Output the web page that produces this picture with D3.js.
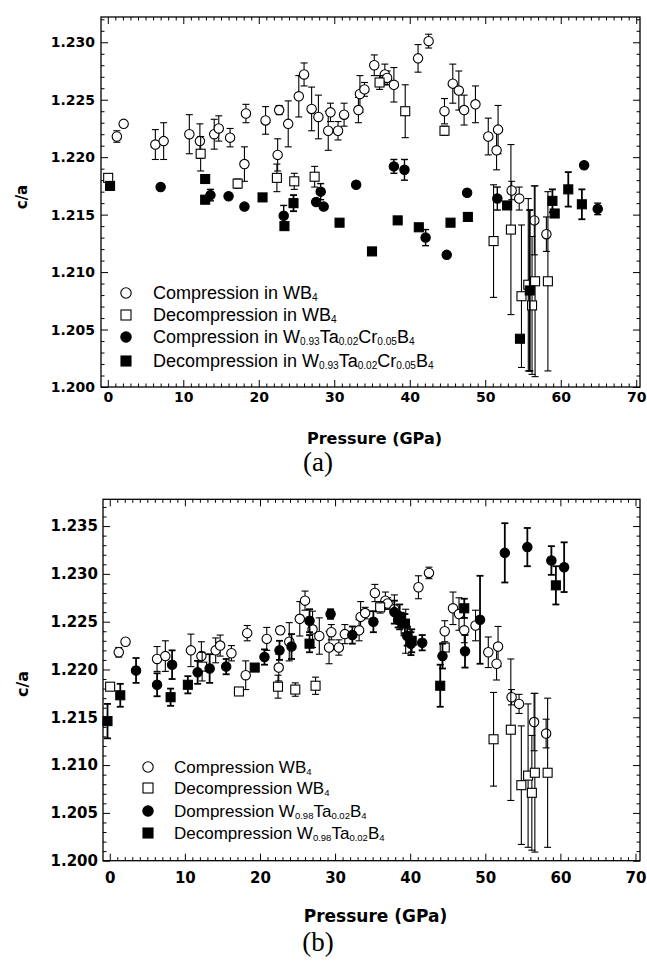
<!DOCTYPE html>
<html>
<head>
<meta charset="utf-8">
<script src="https://cdn.jsdelivr.net/npm/d3@7"></script>
<style>
  body { margin: 0; background: #fff; }
  svg { display: block; }
</style>
</head>
<body>
<div id="chart"></div>
<script>
// every row: [pressure (GPa), c/a, error]
const wb4Comp = [
  [1.2, 1.2218, 0.0005], [2.1, 1.2229, 0], [6.3, 1.2211, 0.0013], [7.4, 1.2214, 0.0016],
  [10.8, 1.2220, 0.0017], [12.2, 1.2214, 0.0015], [14.1, 1.2220, 0.0013], [14.7, 1.2225, 0.0011],
  [16.2, 1.2217, 0.0008], [18.1, 1.2194, 0.0015], [18.3, 1.2238, 0.0008], [20.9, 1.2232, 0.0012],
  [22.5, 1.2202, 0.0014], [22.7, 1.2241, 0.0004], [23.9, 1.2229, 0.0020], [25.3, 1.2253, 0.0018],
  [26.0, 1.2272, 0.0010], [27.0, 1.2242, 0.0019], [27.9, 1.2235, 0.0019], [29.2, 1.2223, 0.0017],
  [29.5, 1.2239, 0.0008], [30.5, 1.2223, 0.0008], [31.3, 1.2237, 0.0010], [33.2, 1.2241, 0.0011],
  [33.4, 1.2255, 0.0016], [34.0, 1.2259, 0.0006], [35.3, 1.2280, 0.0009], [36.7, 1.2272, 0.0009],
  [37.0, 1.2269, 0.0006], [37.9, 1.2263, 0.0015], [41.1, 1.2286, 0.0012], [42.5, 1.2301, 0.0006],
  [44.6, 1.2240, 0.0011], [45.7, 1.2264, 0.0017], [46.5, 1.2258, 0.0017], [47.2, 1.2241, 0.0013],
  [48.7, 1.2246, 0.0016], [50.4, 1.2218, 0.0016], [51.5, 1.2206, 0.0017], [51.7, 1.2224, 0.0021],
  [53.5, 1.2171, 0.0008], [54.5, 1.2164, 0.0010], [56.5, 1.2145, 0.0030], [58.1, 1.2133, 0.0015]
]
const wb4Decomp = [
  [0.05, 1.2182, 0], [12.3, 1.2203, 0.0015], [17.2, 1.2177, 0.0004], [22.4, 1.2182, 0.0012],
  [24.7, 1.2179, 0.0007], [27.4, 1.2183, 0.0009], [36.0, 1.2265, 0.0006], [39.4, 1.2240, 0.0023],
  [44.6, 1.2223, 0.0004], [51.1, 1.2127, 0.0049], [53.4, 1.2137, 0.0074], [54.8, 1.2079, 0.0062],
  [55.7, 1.2089, 0.0075], [56.2, 1.2071, 0.0060], [56.6, 1.2092, 0.0083], [58.3, 1.2092, 0.0078]
]
// panel (a): W0.93Ta0.02Cr0.05B4
const crComp = [
  [7.0, 1.2174, 0], [13.6, 1.2167, 0.0005], [16.0, 1.2166, 0], [18.1, 1.2157, 0],
  [23.3, 1.2149, 0.0009], [27.6, 1.2161, 0], [28.2, 1.2170, 0.0007], [28.6, 1.2157, 0],
  [32.9, 1.2176, 0], [37.9, 1.2192, 0.0006], [39.3, 1.2189, 0.0009], [42.1, 1.2130, 0.0007],
  [44.9, 1.2115, 0], [47.6, 1.2169, 0], [51.6, 1.2164, 0.0010], [63.1, 1.2193, 0],
  [64.9, 1.2155, 0.0005]
]
const crDecomp = [
  [0.3, 1.2175, 0], [12.9, 1.2181, 0], [12.9, 1.2163, 0], [20.5, 1.2165, 0],
  [23.4, 1.2140, 0], [24.6, 1.2160, 0.0007], [30.7, 1.2143, 0], [35.0, 1.2118, 0],
  [38.4, 1.2145, 0], [41.2, 1.2139, 0], [45.4, 1.2143, 0], [47.7, 1.2148, 0],
  [52.9, 1.2158, 0], [54.6, 1.2042, 0], [55.9, 1.2084, 0.0070], [58.9, 1.2162, 0.0010],
  [59.2, 1.2151, 0], [61.0, 1.2172, 0.0015], [62.8, 1.2159, 0.0013]
]
// panel (b): W0.98Ta0.02B4
const taComp = [
  [3.5, 1.2199, 0.0013], [6.3, 1.2184, 0.0012], [8.3, 1.2205, 0.0015], [11.7, 1.2197, 0.0012],
  [13.3, 1.2201, 0.0015], [15.5, 1.2203, 0.0008], [20.6, 1.2213, 0.0008], [22.6, 1.2220, 0.0010],
  [24.2, 1.2224, 0.0013], [26.6, 1.2251, 0.0012], [29.4, 1.2258, 0.0005], [32.3, 1.2236, 0.0009],
  [35.1, 1.2250, 0.0011], [37.9, 1.2260, 0.0012], [38.4, 1.2252, 0.0008], [39.6, 1.2235, 0.0010],
  [40.1, 1.2227, 0.0012], [41.6, 1.2228, 0.0008], [44.3, 1.2214, 0.0013], [47.3, 1.2219, 0.0017],
  [49.3, 1.2252, 0.0046], [52.6, 1.2322, 0.0031], [55.6, 1.2328, 0.0020], [58.8, 1.2314, 0.0015],
  [60.5, 1.2307, 0.0026]
]
const taDecomp = [
  [-0.3, 1.2146, 0.0018], [1.4, 1.2173, 0.0012], [8.1, 1.2171, 0.0009], [10.4, 1.2184, 0.0009],
  [19.3, 1.2202, 0], [26.6, 1.2227, 0.0009], [38.6, 1.2255, 0.0013], [39.3, 1.2248, 0.0010],
  [40.2, 1.2230, 0.0012], [44.0, 1.2183, 0.0022], [47.2, 1.2264, 0.0010], [59.4, 1.2288, 0.0020]
]

const xTicks = [0, 10, 20, 30, 40, 50, 60, 70]
const yTicksA = [1.200, 1.205, 1.210, 1.215, 1.220, 1.225, 1.230]
const yTicksB = [1.200, 1.205, 1.210, 1.215, 1.220, 1.225, 1.230, 1.235]

// legend rows: pieces of [text, isSubscript]
const legendA = [
  [["Compression in WB", 0], ["4", 1]],
  [["Decompression in WB", 0], ["4", 1]],
  [["Compression in W", 0], ["0.93", 1], ["Ta", 0], ["0.02", 1], ["Cr", 0], ["0.05", 1], ["B", 0], ["4", 1]],
  [["Decompression in W", 0], ["0.93", 1], ["Ta", 0], ["0.02", 1], ["Cr", 0], ["0.05", 1], ["B", 0], ["4", 1]]
]
const legendB = [
  [["Compression WB", 0], ["4", 1]],
  [["Decompression WB", 0], ["4", 1]],
  [["Dompression W", 0], ["0.98", 1], ["Ta", 0], ["0.02", 1], ["B", 0], ["4", 1]],
  [["Decompression W", 0], ["0.98", 1], ["Ta", 0], ["0.02", 1], ["B", 0], ["4", 1]]
]

const width = 647
const height = 962
const tickFont = "'DejaVu Sans', sans-serif"

const svg = d3.select("#chart").append("svg")
  .attr("width", width)
  .attr("height", height)
  .attr("viewBox", [0, 0, width, height])

svg.append("rect").attr("width", width).attr("height", height).attr("fill", "#fff")

function marker(g, shape, filled, cx, cy, r) {
  if (shape === "circle") {
    g.append("circle").attr("cx", cx).attr("cy", cy).attr("r", r)
      .attr("fill", filled ? "#000" : "#fff").attr("stroke", "#000").attr("stroke-width", 1.1)
  } else {
    g.append("rect").attr("x", cx - r).attr("y", cy - r).attr("width", 2 * r).attr("height", 2 * r)
      .attr("fill", filled ? "#000" : "#fff").attr("stroke", "#000").attr("stroke-width", 1.1)
  }
}

function drawPanel(cfg) {
  const x = d3.scaleLinear(cfg.xDomain, [cfg.left, cfg.right])
  const y = d3.scaleLinear(cfg.yDomain, [cfg.bottom, cfg.top])
  const g = svg.append("g")

  const xMinor = d3.range(0, 71).filter(v => v % 10 !== 0)
  const yMinor = d3.range(1200, Math.floor(cfg.yDomain[1] * 1000) + 1).filter(v => v % 5 !== 0).map(v => v / 1000)

  // ticks on all four sides, pointing inward
  const makers = [
    () => d3.axisBottom(x), () => d3.axisTop(x), () => d3.axisLeft(y), () => d3.axisRight(y)
  ]
  const moves = [
    `translate(0,${cfg.bottom})`, `translate(0,${cfg.top})`,
    `translate(${cfg.left},0)`, `translate(${cfg.right},0)`
  ]
  makers.forEach((make, i) => {
    const isX = i < 2
    const major = isX ? xTicks : cfg.yTicks
    const minor = isX ? xMinor : yMinor
    const fmt = i === 0 ? (d => d) : i === 2 ? d3.format(".3f") : (() => "")
    g.append("g").attr("transform", moves[i])
      .call(make().tickValues(minor).tickSizeInner(-3.5).tickSizeOuter(0).tickFormat(""))
      .call(a => a.select(".domain").remove())
    g.append("g").attr("transform", moves[i])
      .call(make().tickValues(major).tickSizeInner(-7).tickSizeOuter(0)
        .tickPadding(isX ? cfg.xPad : cfg.yPad).tickFormat(fmt))
      .call(a => a.select(".domain").remove())
      .call(a => a.selectAll("text").attr("font-family", tickFont).attr("font-weight", "bold")
        .attr("font-size", cfg.tickSize).attr("fill", "#000"))
  })
  g.selectAll(".tick line").attr("stroke", "#000").attr("stroke-width", 1)

  g.append("rect")
    .attr("x", cfg.left).attr("y", cfg.top)
    .attr("width", cfg.right - cfg.left).attr("height", cfg.bottom - cfg.top)
    .attr("fill", "none").attr("stroke", "#000").attr("stroke-width", 1.3)

  // series: error bars then markers
  cfg.series.forEach(s => {
    const sg = g.append("g")
    s.data.forEach(([p, v, e]) => {
      if (e > 0) {
        const px = x(p), y1 = y(v - e), y2 = y(v + e)
        sg.append("line").attr("x1", px).attr("x2", px).attr("y1", y1).attr("y2", y2)
          .attr("stroke", "#000").attr("stroke-width", s.barWidth)
        ;[y1, y2].forEach(yy => sg.append("line")
          .attr("x1", px - 3.5).attr("x2", px + 3.5).attr("y1", yy).attr("y2", yy)
          .attr("stroke", "#000").attr("stroke-width", s.barWidth))
      }
    })
    s.data.forEach(([p, v]) => marker(sg, s.shape, s.filled, x(p), y(v), s.shape === "circle" ? 4.7 : 4.5))
  })

  // legend
  cfg.legend.forEach((row, i) => {
    const s = cfg.series[i]
    const ly = cfg.legendY[i]
    marker(g, s.shape, s.filled, cfg.legendX, ly, s.shape === "circle" ? 5.2 : 5)
    const t = g.append("text").attr("x", cfg.legendTextX).attr("y", ly + cfg.legendSize * 0.36)
      .attr("font-family", "'Liberation Sans', Arial, sans-serif").attr("font-size", cfg.legendSize).attr("fill", "#000")
    let shift = 0
    row.forEach(([txt, sub]) => {
      const want = sub ? 2 : 0
      t.append("tspan").attr("dy", want - shift).attr("font-size", sub ? cfg.legendSize * 0.56 : null).text(txt)
      shift = want
    })
  })

  // axis titles
  g.append("text")
    .attr("transform", `translate(${cfg.yLabelX},${cfg.yLabelY}) rotate(-90)`)
    .attr("text-anchor", "middle").attr("dominant-baseline", "central")
    .attr("font-family", tickFont).attr("font-weight", "bold").attr("font-size", cfg.labelSize - 1)
    .text("c/a")
  g.append("text")
    .attr("x", (cfg.left + cfg.right) / 2 + 4).attr("y", cfg.xLabelY)
    .attr("text-anchor", "middle")
    .attr("font-family", tickFont).attr("font-weight", "bold").attr("font-size", cfg.labelSize)
    .text("Pressure (GPa)")
  g.append("text")
    .attr("x", 318).attr("y", cfg.tagY)
    .attr("text-anchor", "middle")
    .attr("font-family", "'Liberation Serif', 'Times New Roman', serif").attr("font-size", 27)
    .text(cfg.tag)
}

drawPanel({
  left: 101, right: 640, top: 17, bottom: 387,
  xDomain: [-0.9, 70.5], yDomain: [1.200, 1.2322], yTicks: yTicksA,
  xPad: 5, yPad: 6, tickSize: 14, labelSize: 16,
  series: [
    {data: wb4Comp, shape: "circle", filled: false, barWidth: 1.1},
    {data: wb4Decomp, shape: "square", filled: false, barWidth: 1.1},
    {data: crComp, shape: "circle", filled: true, barWidth: 1.4},
    {data: crDecomp, shape: "square", filled: true, barWidth: 1.8}
  ],
  legend: legendA, legendX: 126, legendTextX: 153, legendY: [293, 315, 337, 361], legendSize: 18,
  yLabelX: 22, yLabelY: 197, xLabelY: 444, tag: "(a)", tagY: 471
})

drawPanel({
  left: 103, right: 640, top: 499.3, bottom: 860.7,
  xDomain: [-0.9, 70.6], yDomain: [1.200, 1.2378], yTicks: yTicksB,
  xPad: 12, yPad: 5, tickSize: 15, labelSize: 17,
  series: [
    {data: wb4Comp, shape: "circle", filled: false, barWidth: 1.1},
    {data: wb4Decomp, shape: "square", filled: false, barWidth: 1.1},
    {data: taComp, shape: "circle", filled: true, barWidth: 1.8},
    {data: taDecomp, shape: "square", filled: true, barWidth: 1.8}
  ],
  legend: legendB, legendX: 148, legendTextX: 174, legendY: [767, 788, 811, 833], legendSize: 17,
  yLabelX: 22, yLabelY: 684, xLabelY: 922, tag: "(b)", tagY: 951
})
</script>
</body>
</html>
